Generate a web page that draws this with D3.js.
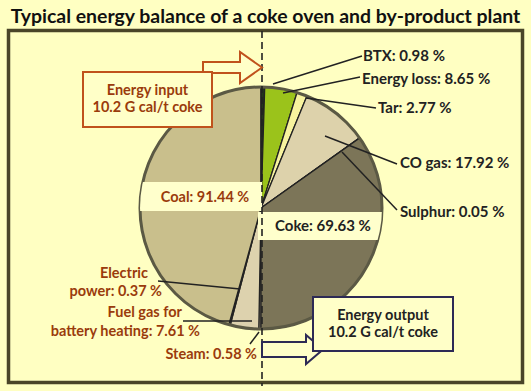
<!DOCTYPE html>
<html><head><meta charset="utf-8">
<script src="https://cdn.jsdelivr.net/npm/d3@7/dist/d3.min.js"></script>
<style>body{margin:0;background:#ffffc2;} svg{display:block;}</style>
</head><body>
<svg id="c" width="531" height="391"></svg>
<script>
const title = "Typical energy balance of a coke oven and by-product plant";
// Input (left half), clockwise from bottom
const inputNames = ["Steam", "Fuel gas for battery heating", "Electric power", "Coal"];
const inputValues = [0.58, 7.61, 0.37, 91.44];
// Output (right half), clockwise from top
const outputNames = ["BTX", "Energy loss", "Tar", "CO gas", "Sulphur", "Coke"];
const outputValues = [0.98, 8.65, 2.77, 17.92, 0.05, 69.63];
const inputBox = ["Energy input", "10.2 G cal/t coke"];
const outputBox = ["Energy output", "10.2 G cal/t coke"];

const inputColors = ["#d8cca6", "#ddd2ae", "#cfc496", "#c9bf8c"];
const outputColors = ["#24361c", "#9bc31b", "#f7f39e", "#ddd2ab", "#8a8264", "#7c7558"];

const svg = d3.select("#c");
svg.append("rect").attr("width",531).attr("height",391).attr("fill","#ffffc2");

const t = svg.append("text").attr("x",265.5).attr("y",23).attr("text-anchor","middle")
  .attr("font-family","Lato, 'Open Sans', sans-serif").attr("font-weight","bold")
  .attr("font-size",19).attr("fill","#111").text(title);
{ const w = t.node().getComputedTextLength(); t.attr("font-size", 19*510/w); }

svg.append("rect").attr("x",8.5).attr("y",30.5).attr("width",514).attr("height",352)
  .attr("fill","none").attr("stroke","#4a4528").attr("stroke-width",3.5);

const cx = 261, cy = 208, R = 121;
const g = svg.append("g").attr("transform",`translate(${cx},${cy})`);
const arc = d3.arc().innerRadius(0).outerRadius(R);

const pieOut = d3.pie().sort(null).startAngle(0).endAngle(Math.PI)(outputValues);
const pieIn = d3.pie().sort(null).startAngle(Math.PI).endAngle(2*Math.PI)(inputValues);

g.selectAll("path.in").data(pieIn).join("path").attr("class","in")
  .attr("d",arc).attr("fill",(d,i)=>inputColors[i]).attr("stroke","#222").attr("stroke-width",1.3);
g.selectAll("path.out").data(pieOut).join("path").attr("class","out")
  .attr("d",arc).attr("fill",(d,i)=>outputColors[i]).attr("stroke","#222").attr("stroke-width",1.3);

// label bands clipped to the pie
svg.append("clipPath").attr("id","pc").append("circle").attr("cx",cx).attr("cy",cy).attr("r",R);
const bands = svg.append("g").attr("clip-path","url(#pc)");
bands.append("rect").attr("x",cx-R).attr("y",182).attr("width",R+1).attr("height",29).attr("fill","#ffffcc");
bands.append("rect").attr("x",cx-3).attr("y",212).attr("width",R+3).attr("height",28).attr("fill","#ffffcc");

g.append("circle").attr("r",R).attr("fill","none").attr("stroke","#5b5944").attr("stroke-width",3);

// dashed divider
svg.append("line").attr("x1",262).attr("x2",262).attr("y1",31).attr("y2",386)
  .attr("stroke","#222").attr("stroke-width",1.6).attr("stroke-dasharray","7,4");

const font = "Lato, 'Open Sans', sans-serif";
const brown = "#9a3b0c", dark = "#222222";
const FS = 14.5;
function label(x,y,txt,col,anchor,fs){
  svg.append("text").attr("x",x).attr("y",y).attr("text-anchor",anchor||"start")
    .attr("font-family",font).attr("font-weight","bold").attr("font-size",fs||FS)
    .attr("fill",col).text(txt);
}
function leader(pts){
  svg.append("polyline").attr("points",pts.map(p=>p.join(",")).join(" "))
    .attr("fill","none").attr("stroke","#222").attr("stroke-width",1.5);
}
const fmt = v => v.toFixed(2) + " %";
const outLab = outputNames.map((n,i)=>n+": "+fmt(outputValues[i]));

// output leaders + labels
leader([[273,84],[362,56]]); label(363,61,outLab[0],dark,"start",15);
leader([[283,93],[360,77]]); label(362,84,outLab[1],dark,"start",15);
leader([[306,98],[376,108]]); label(378,113,outLab[2],dark,"start",15);
leader([[325,136],[397,164]]); label(400,168,outLab[3],dark,"start",15);
leader([[342,152],[397,210]]); label(400,217,outLab[4],dark,"start",15);
label(275,231,outLab[5],dark,"start",15);

// input labels
label(205,202,"Coal: "+fmt(inputValues[3]),brown,"middle");
leader([[158,281],[240,289]]);
label(148,278,"Electric",brown,"end");
label(162,296,"power: "+fmt(inputValues[2]),brown,"end");
leader([[183,321],[252,321]]);
label(182,317,"Fuel gas for",brown,"end");
label(200,336,"battery heating: "+fmt(inputValues[1]),brown,"end");
leader([[250,344],[259,332]]);
label(257,359,"Steam: "+fmt(inputValues[0]),brown,"end");

// input box + arrow
const orange = "#c0521c";
svg.append("path").attr("d","M203,62 H240 V52 L262,67.5 L240,83 V73 H203 Z")
  .attr("fill","#ffffc8").attr("stroke",orange).attr("stroke-width",2);
svg.append("rect").attr("x",83).attr("y",72).attr("width",129).attr("height",55)
  .attr("fill","#ffffc8").attr("stroke",orange).attr("stroke-width",2);
inputBox.forEach((s,i)=>svg.append("text").attr("x",147.5).attr("y",95+i*17).attr("text-anchor","middle")
  .attr("font-family",font).attr("font-weight","bold").attr("font-size",FS).attr("fill",brown).text(s));

// output box + arrow
const navy = "#2d2a55";
svg.append("path").attr("d","M262,342 H306 V335 L323,349.5 L306,364 V357 H262 Z")
  .attr("fill","#ffffc8").attr("stroke",navy).attr("stroke-width",2);
svg.append("rect").attr("x",313).attr("y",297).attr("width",140).attr("height",54)
  .attr("fill","#ffffc8").attr("stroke",navy).attr("stroke-width",2);
outputBox.forEach((s,i)=>svg.append("text").attr("x",383).attr("y",320+i*17).attr("text-anchor","middle")
  .attr("font-family",font).attr("font-weight","bold").attr("font-size",FS).attr("fill",dark).text(s));
</script>
</body></html>
